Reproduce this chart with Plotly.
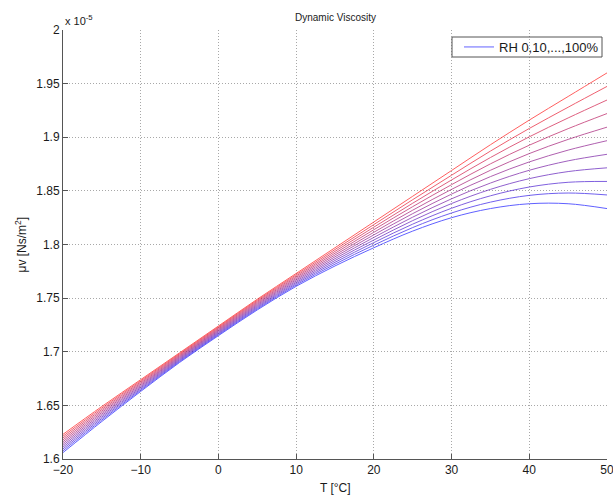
import plotly.graph_objects as go

# Temperature grid [°C]
temperature = [-20, -15, -10, -5, 0, 5, 10, 15, 20, 25, 30, 35, 40, 45, 50]

# Dynamic viscosity of humid air [x 1e-5 Ns/m^2], one list per relative humidity
mu_rh000 = [1.6060, 1.6350, 1.6630, 1.6900, 1.7150, 1.7390, 1.7610, 1.7800, 1.7970, 1.8125, 1.8250, 1.8335, 1.8380, 1.8380, 1.8335]
mu_rh010 = [1.6077, 1.6364, 1.6641, 1.6909, 1.7159, 1.7400, 1.7622, 1.7817, 1.7994, 1.8158, 1.8294, 1.8395, 1.8458, 1.8480, 1.8462]
mu_rh020 = [1.6094, 1.6378, 1.6652, 1.6918, 1.7168, 1.7410, 1.7634, 1.7834, 1.8018, 1.8190, 1.8338, 1.8454, 1.8536, 1.8580, 1.8588]
mu_rh030 = [1.6111, 1.6392, 1.6663, 1.6927, 1.7177, 1.7420, 1.7646, 1.7851, 1.8042, 1.8223, 1.8382, 1.8514, 1.8614, 1.8680, 1.8715]
mu_rh040 = [1.6128, 1.6406, 1.6674, 1.6936, 1.7186, 1.7430, 1.7658, 1.7868, 1.8066, 1.8255, 1.8426, 1.8573, 1.8692, 1.8780, 1.8841]
mu_rh050 = [1.6145, 1.6420, 1.6685, 1.6945, 1.7195, 1.7440, 1.7670, 1.7885, 1.8090, 1.8288, 1.8470, 1.8633, 1.8770, 1.8880, 1.8968]
mu_rh060 = [1.6162, 1.6434, 1.6696, 1.6954, 1.7204, 1.7450, 1.7682, 1.7902, 1.8114, 1.8320, 1.8514, 1.8692, 1.8848, 1.8980, 1.9094]
mu_rh070 = [1.6179, 1.6448, 1.6707, 1.6963, 1.7213, 1.7460, 1.7694, 1.7919, 1.8138, 1.8353, 1.8558, 1.8752, 1.8926, 1.9080, 1.9221]
mu_rh080 = [1.6196, 1.6462, 1.6718, 1.6972, 1.7222, 1.7470, 1.7706, 1.7936, 1.8162, 1.8385, 1.8602, 1.8811, 1.9004, 1.9180, 1.9347]
mu_rh090 = [1.6213, 1.6476, 1.6729, 1.6981, 1.7231, 1.7480, 1.7718, 1.7953, 1.8186, 1.8418, 1.8646, 1.8871, 1.9082, 1.9280, 1.9474]
mu_rh100 = [1.6230, 1.6490, 1.6740, 1.6990, 1.7240, 1.7490, 1.7730, 1.7970, 1.8210, 1.8450, 1.8690, 1.8930, 1.9160, 1.9380, 1.9600]

series = [mu_rh000, mu_rh010, mu_rh020, mu_rh030, mu_rh040, mu_rh050,
          mu_rh060, mu_rh070, mu_rh080, mu_rh090, mu_rh100]

x_ticks = [-20, -10, 0, 10, 20, 30, 40, 50]
y_ticks = [1.6, 1.65, 1.7, 1.75, 1.8, 1.85, 1.9, 1.95, 2.0]
y_tick_labels = ["1.6", "1.65", "1.7", "1.75", "1.8", "1.85", "1.9", "1.95", "2"]

FONT = "Liberation Sans, Arial, Helvetica, sans-serif"
TXT = "#1a1a1a"
W, H = 613, 498
L, R, T, B = 63, 6, 30, 39
PW, PH = W - L - R, H - T - B


def px_x(px):
    return (px - L) / PW


def px_y(py):
    return (H - B - py) / PH


fig = go.Figure()
n = len(series)
for i, mu in enumerate(series):
    f = i / (n - 1)
    color = f"rgb({round(255 * f)},0,{round(255 * (1 - f))})"
    fig.add_trace(go.Scatter(
        x=temperature, y=mu, mode="lines",
        line=dict(color=color, width=1, shape="spline", smoothing=1.0),
        opacity=0.62,
        name="RH 0,10,...,100%", showlegend=(i == 0),
        hoverinfo="skip",
    ))

axis_common = dict(
    showline=True, linecolor="#555555", linewidth=1, mirror=False,
    ticks="inside", ticklen=5, tickcolor="#555555",
    showgrid=True, gridcolor="#a8a8a8", griddash="1px,2px", gridwidth=1,
    zeroline=False, ticklabeloverflow="allow", automargin=False,
    tickfont=dict(family=FONT, size=12, color=TXT),
)

fig.update_xaxes(range=[-20, 50], tickvals=x_ticks, **axis_common)
fig.update_yaxes(range=[1.6, 2.0], tickvals=y_ticks, ticktext=y_tick_labels, **axis_common)

fig.update_layout(
    width=W, height=H,
    margin=dict(l=L, r=R, t=T, b=B, pad=0, autoexpand=False),
    paper_bgcolor="white", plot_bgcolor="white",
    font=dict(family=FONT, size=12, color=TXT),
    showlegend=True,
    legend=dict(
        x=px_x(459), y=px_y(32), xanchor="left", yanchor="top",
        bgcolor="rgba(0,0,0,0)", borderwidth=0,
        font=dict(family=FONT, size=13, color=TXT),
        itemwidth=30, tracegroupgap=0,
    ),
    shapes=[
        dict(type="rect", xref="paper", yref="paper",
             x0=px_x(452), x1=px_x(602), y0=px_y(57), y1=px_y(37),
             line=dict(color="#555555", width=1), fillcolor="rgba(255,255,255,0)",
             layer="above"),
    ],
    annotations=[
        dict(text="Dynamic Viscosity", xref="paper", yref="paper",
             x=0.5, y=px_y(17), xanchor="center", yanchor="middle",
             showarrow=False, font=dict(family=FONT, size=10, color=TXT)),
        dict(text="x 10<sup>-5</sup>", xref="paper", yref="paper",
             x=0.0, y=1.0, xanchor="left", yanchor="bottom", yshift=1,
             showarrow=False, font=dict(family=FONT, size=11, color=TXT)),
        dict(text="T [°C]", xref="paper", yref="paper",
             x=0.5, y=px_y(488), xanchor="center", yanchor="middle",
             showarrow=False, font=dict(family=FONT, size=12, color=TXT)),
        dict(text="μv [Ns/m<sup>2</sup>]", xref="paper", yref="paper",
             x=px_x(20), y=0.5, xanchor="center", yanchor="middle",
             textangle=-90, showarrow=False,
             font=dict(family=FONT, size=12, color=TXT)),
    ],
)

fig.write_html("out.html")
